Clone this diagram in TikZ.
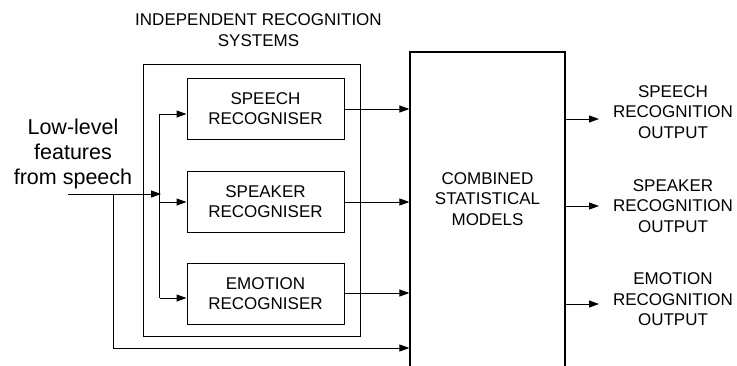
\documentclass[tikz,border=0pt]{standalone}
\usepackage{fontspec}
\setmainfont{Liberation Sans}
\usetikzlibrary{arrows.meta}
\begin{document}
\begin{tikzpicture}[x=1pt,y=-1pt,
  line width=1pt,
  box/.style={draw, line width=1pt, align=center, inner sep=0pt,
    font=\fontsize{17}{20.5}\selectfont},
  label/.style={align=center, inner sep=0pt, font=\fontsize{17}{20.5}\selectfont},
  feed/.style={-{Triangle[length=10pt,width=7pt]}},
]
\useasboundingbox (0,0) rectangle (737,365);
\clip (0,0) rectangle (737,365);

% group frame and title
\node[draw, line width=1pt, minimum width=217pt, minimum height=271.5pt, inner sep=0pt]
  (grp) at (251.5,200.25) {};
\node[label] (title) at (258.5,30) {INDEPENDENT RECOGNITION\\SYSTEMS};

% individual recognisers
\node[box, minimum width=157pt, minimum height=60.5pt] (sp) at (265.5,108.75) {SPEECH\\RECOGNISER};
\node[box, minimum width=157pt, minimum height=61pt] (sk) at (265.5,201.5) {SPEAKER\\RECOGNISER};
\node[box, minimum width=157pt, minimum height=61pt] (em) at (265.5,293.5) {EMOTION\\RECOGNISER};

% combined models block (runs past the lower edge)
\node[draw, line width=1.2pt, minimum width=155pt, minimum height=340pt, inner sep=0pt]
  (comb) at (487.5,222) {};
\node[label] (combtxt) at (487.5,199) {COMBINED\\STATISTICAL\\MODELS};

% input features
\node[align=center, inner sep=0pt, font=\fontsize{21.5}{25}\selectfont]
  (feat) at (73,154) {Low-level\\features\\from speech};
\coordinate (in) at (68,194);
\coordinate (bus) at (161,194);
\coordinate (bt) at (159.5,114);
\coordinate (bb) at (159.5,298);
\coordinate (tap) at (113,194);

\draw[feed] (in) -- (bus);
\draw (bt) -- (bb);
\draw[feed] (bt) -- (bt -| sp.west);
\draw[feed] (159.5,202) -- (sk.west |- 0,202);
\draw[feed] (bb) -- (bb -| em.west);
\draw[feed] (tap) |- (comb.west |- 0,348);

% recogniser outputs into combined block
\draw[feed] (sp.east |- 0,109) -- (comb.west |- 0,109);
\draw[feed] (sk.east |- 0,202) -- (comb.west |- 0,202);
\draw[feed] (em.east |- 0,293) -- (comb.west |- 0,293);

% final outputs
\coordinate (o1) at (599,119);
\coordinate (o2) at (599,206);
\coordinate (o3) at (599,304);
\draw[feed] (comb.east |- o1) -- (o1);
\draw[feed] (comb.east |- o2) -- (o2);
\draw[feed] (comb.east |- o3) -- (o3);
\node[label] (out1) at (673,112) {SPEECH\\RECOGNITION\\OUTPUT};
\node[label] (out2) at (673,206) {SPEAKER\\RECOGNITION\\OUTPUT};
\node[label] (out3) at (673,299.5) {EMOTION\\RECOGNITION\\OUTPUT};
\end{tikzpicture}
\end{document}
